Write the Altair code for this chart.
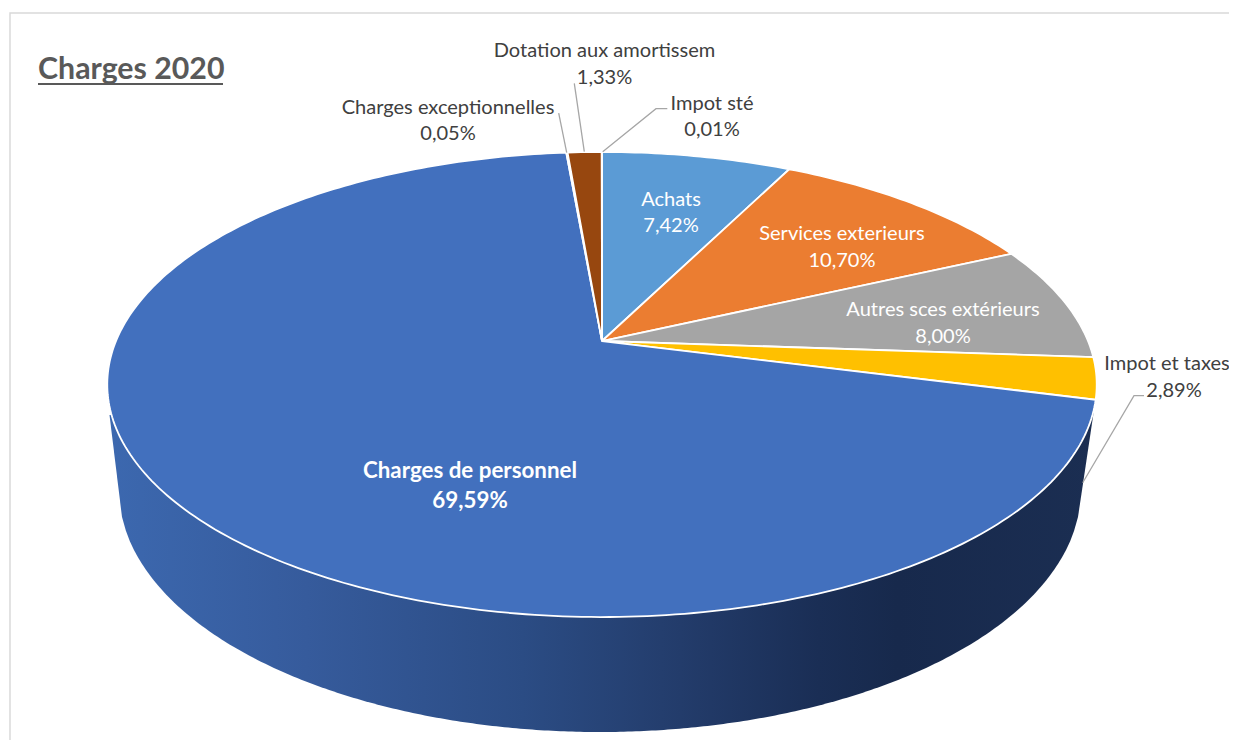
import math
import altair as alt

# ---- data
categories = ["Achats", "Services exterieurs", "Autres sces extérieurs", "Impot et taxes",
              "Charges de personnel", "Charges exceptionnelles", "Dotation aux amortissem", "Impot sté"]
shares = [7.42, 10.70, 8.00, 2.89, 69.59, 0.05, 1.33, 0.01]
share_labels = ["7,42%", "10,70%", "8,00%", "2,89%", "69,59%", "0,05%", "1,33%", "0,01%"]
colors = ["#5B9BD5", "#EB7D31", "#A5A5A5", "#FFC000", "#4270BE", "#70AD47", "#97470F", "#264478"]

# ---- layout, in page pixels
M = 8  # page margin
FIT = 1229 / 1221  # the page shrinks a 1229 px wide chart into its 1221 px content box
SHIFT = -2.4       # and centres the shrunk drawing vertically in its box
CX, CY = 602.0, 341.0
A, B, K = 486.0, 224.4, 0.187      # perspective disc
LOW = (600.0, 490.0, 481.0, 242.0)  # lower rim ellipse
# name x, name y, share x, share y
label_xy = {
    "Achats": (671, 200, 671, 226),
    "Services exterieurs": (842, 234, 842, 261),
    "Autres sces extérieurs": (943, 310, 943, 337),
    "Impot et taxes": (1167, 364, 1174, 391),
    "Charges de personnel": (470, 471, 470, 501),
    "Charges exceptionnelles": (448, 108, 448, 134),
    "Dotation aux amortissem": (604.5, 51, 604.5, 78),
    "Impot sté": (712, 104, 712, 130),
}
white_labels = ["Achats", "Services exterieurs", "Autres sces extérieurs"]
leaders = [
    [(558.7, 113), (566.7, 152.7)],
    [(574.3, 83.3), (584.3, 151.7)],
    [(667.3, 108.7), (656, 108.7), (602.7, 151.7)],
    [(1144, 395.7), (1134, 395.7), (1082.7, 482.7)],
]
frame = [(1237, 13), (10, 13), (10, 745)]
title_rule = [(38, 84), (223, 84)]


def page(x, y):
    return [x - M, y - M]


def disc(turn):
    t = 2 * math.pi * turn
    X, Y = math.sin(t), math.cos(t)
    d = 1 + K * Y
    return page(CX + A * X / d, CY - B * Y / d)


def feature(kind, coords, name=""):
    return {"type": "Feature", "properties": {"name": name},
            "geometry": {"type": kind, "coordinates": coords}}


total = sum(shares)
slices, start = [], 0.0
for name, s in zip(categories, shares):
    n = max(2, int(s * 4))
    ring = [page(CX, CY)] + [disc((start + s * i / n) / total) for i in range(n + 1)] + [page(CX, CY)]
    slices.append(feature("Polygon", [ring], name))
    start += s

# side wall: lower rim between its two corners, closed behind the disc
cx2, cy2, rx2, ry2 = LOW
rim = [page(109.5, 415)]
for i in range(0, 241):
    x = 122 + (1078 - 122) * i / 240
    u = min(1.0, abs(x - cx2) / rx2)
    rim.append(page(x, cy2 + ry2 * math.sqrt(1 - u * u)))
rim.append(page(1094, 410))
rim.append(page(109.5, 415))

proj = dict(type="identity", scale=FIT, translate=[0, SHIFT])
FONT = "Lato"

wall = alt.Chart(alt.Data(values=[feature("Polygon", [rim], "wall")])).mark_geoshape(
    strokeWidth=0,
    fill=alt.Gradient(
        gradient="linear", x1=0, x2=1, y1=0, y2=0,
        stops=[
            alt.GradientStop(color="#3C68AF", offset=0),
            alt.GradientStop(color="#365B9C", offset=0.2),
            alt.GradientStop(color="#2B4C84", offset=0.42),
            alt.GradientStop(color="#233C6B", offset=0.58),
            alt.GradientStop(color="#1A2E55", offset=0.72),
            alt.GradientStop(color="#17294C", offset=0.8),
            alt.GradientStop(color="#1B2E52", offset=1),
        ],
    ),
).project(**proj)

top = alt.Chart(alt.Data(values=slices)).mark_geoshape(stroke="white", strokeWidth=1.8).encode(
    color=alt.Color("properties.name:N", legend=None,
                    scale=alt.Scale(domain=categories, range=colors))
).project(**proj)

line_features = [feature("LineString", [page(*p) for p in line]) for line in leaders]
leader_layer = alt.Chart(alt.Data(values=line_features)).mark_geoshape(
    filled=False, stroke="#A6A6A6", strokeWidth=1.3
).project(**proj)

frame_layer = alt.Chart(alt.Data(values=[feature("LineString", [page(*p) for p in frame])])).mark_geoshape(
    filled=False, stroke="#D9D9D9", strokeWidth=1.5
).project(**proj)

rule_layer = alt.Chart(alt.Data(values=[feature("LineString", [page(*p) for p in title_rule])])).mark_geoshape(
    filled=False, stroke="#595959", strokeWidth=2
).project(**proj)

rows = []
for name, pct in zip(categories, share_labels):
    x1, y1, x2, y2 = label_xy[name]
    if name == "Charges de personnel":
        group = "bold"
    elif name in white_labels:
        group = "white"
    else:
        group = "dark"
    rows.append({"t": name, "lon": x1 - M, "lat": y1 - M, "g": group})
    rows.append({"t": pct, "lon": x2 - M, "lat": y2 - M, "g": group})


def text_layer(group, color, weight, size):
    return alt.Chart(alt.Data(values=[r for r in rows if r["g"] == group])).mark_text(
        font=FONT, fontSize=size, fontWeight=weight, color=color, baseline="middle", align="center"
    ).encode(longitude="lon:Q", latitude="lat:Q", text="t:N").project(**proj)


title_layer = alt.Chart(alt.Data(values=[{"t": "Charges 2020", "lon": 38 - M, "lat": 70 - M}])).mark_text(
    font=FONT, fontSize=30.5, fontWeight="bold", color="#595959", baseline="middle", align="left"
).encode(longitude="lon:Q", latitude="lat:Q", text="t:N").project(**proj)

chart = alt.layer(
    frame_layer, wall, top, leader_layer, rule_layer, title_layer,
    text_layer("dark", "#404040", "normal", 20.2),
    text_layer("white", "#FFFFFF", "normal", 20.2),
    text_layer("bold", "#FFFFFF", "bold", 22.5),
).properties(
    width=1229, height=738, padding=0,
    autosize=alt.AutoSizeParams(type="none"),
    background="white",
).configure_view(strokeWidth=0)

chart.save("out.html", embed_options={"renderer": "svg", "actions": False})
